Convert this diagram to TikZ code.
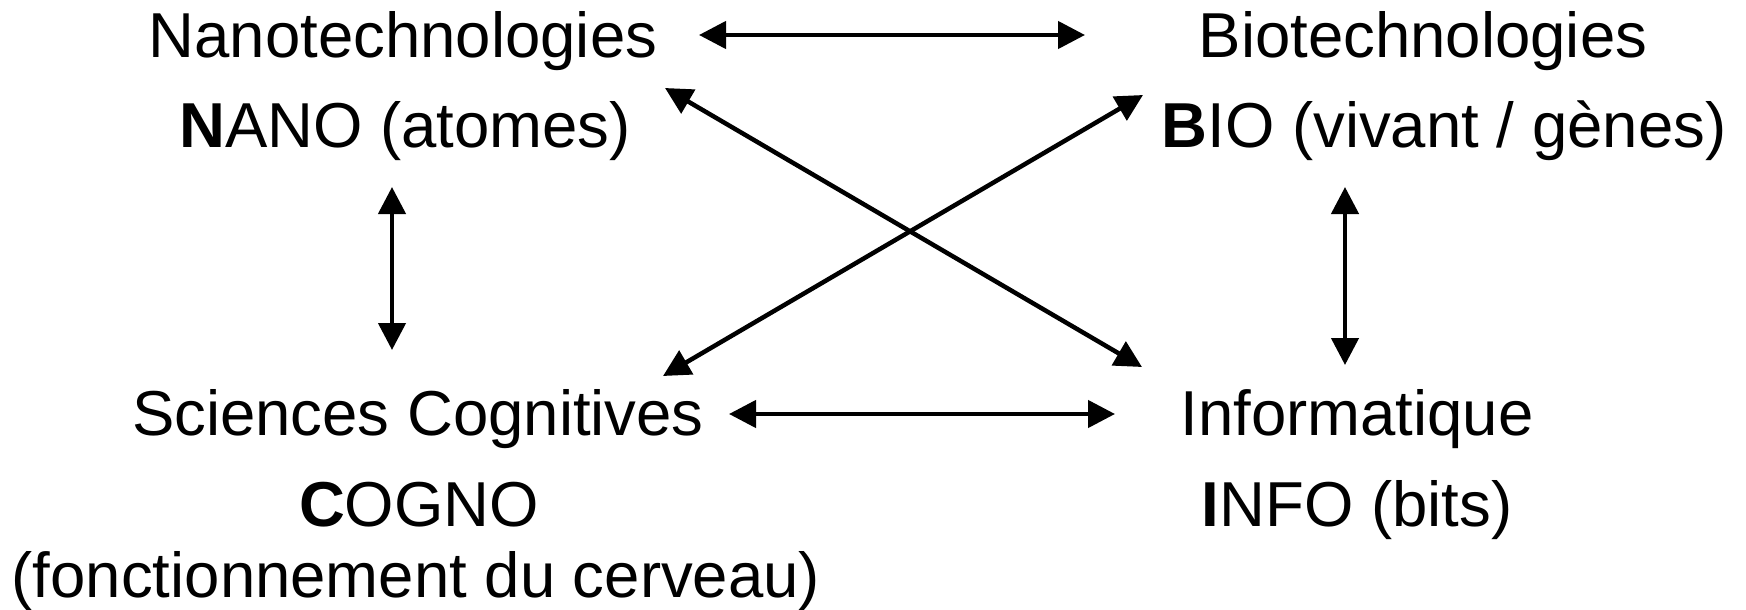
\documentclass[tikz,border=0pt]{standalone}
\usepackage{fontspec}
\setmainfont{Liberation Sans}
\usetikzlibrary{arrows.meta}
\begin{document}
\begin{tikzpicture}[x=1pt,y=-1pt,
  lbl/.style={anchor=base,inner sep=0pt,font=\fontsize{63.5}{70}\selectfont},
  link/.style={line width=4.5pt,{Triangle[length=27pt,width=27pt]}-{Triangle[length=27pt,width=27pt]}}]
\useasboundingbox (0,0) rectangle (1746,610);
% labels
\node[lbl] (nanoA) at (403,58) {Nanotechnologies};
\node[lbl] (nanoB) at (405,147) {\textbf{N}ANO (atomes)};
\node[lbl] (bioA) at (1423,58) {Biotechnologies};
\node[lbl] (bioB) at (1444,147) {\textbf{B}IO (vivant / gènes)};
\node[lbl] (cogA) at (418,435) {Sciences Cognitives};
\node[lbl] (cogB) at (419,526) {\textbf{C}OGNO};
\node[lbl] (cogC) at (416,597) {(fonctionnement du cerveau)};
\node[lbl] (infoA) at (1357,435) {Informatique};
\node[lbl] (infoB) at (1357,526) {\textbf{I}NFO (bits)};
% arrow ends
\coordinate (nbE) at (699,35);
\coordinate (bnW) at (1085,35);
\coordinate (ciE) at (729,414);
\coordinate (icW) at (1115,414);
\coordinate (ncS) at (392,187);
\coordinate (cnN) at (392,350);
\coordinate (biS) at (1345,187);
\coordinate (ibN) at (1345,365);
\coordinate (niSE) at (665,88);
\coordinate (inNW) at (1142,367);
\coordinate (cbNE) at (663,376);
\coordinate (bcSW) at (1143,95);
% connectors
\draw[link] (nbE) -- (bnW);
\draw[link] (ciE) -- (icW);
\draw[link] (ncS) -- (cnN);
\draw[link] (biS) -- (ibN);
\draw[link] (niSE) -- (inNW);
\draw[link] (cbNE) -- (bcSW);
\end{tikzpicture}
\end{document}
